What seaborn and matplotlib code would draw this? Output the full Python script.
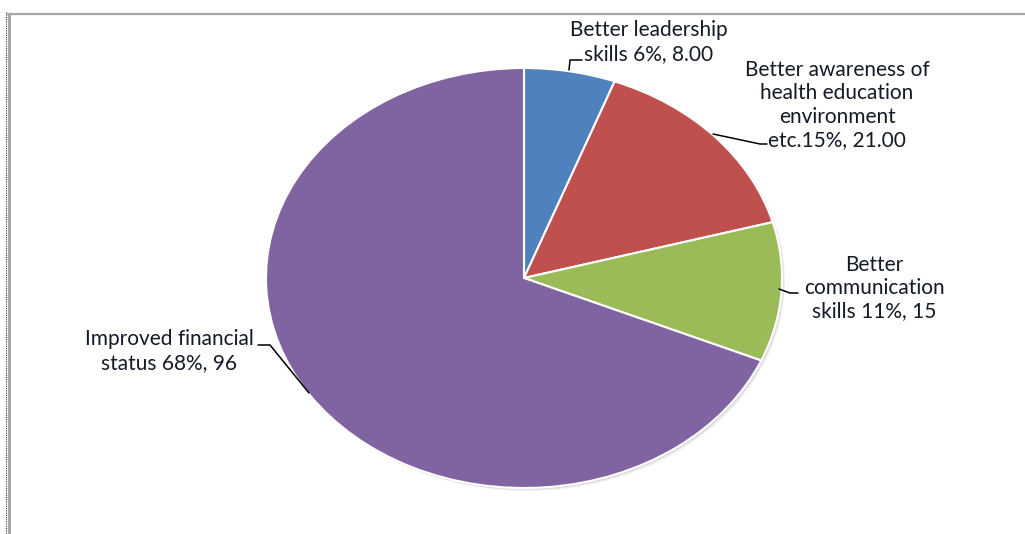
import matplotlib
matplotlib.use("Agg")
import matplotlib.pyplot as plt
from matplotlib.lines import Line2D
import seaborn as sns

# Survey outcome shares
categories = [
    "Better leadership\nskills",
    "Better awareness of\nhealth education\nenvironment\netc.",
    "Better\ncommunication\nskills",
    "Improved financial\nstatus",
]
counts = [8, 21, 15, 96]
percent_labels = ["6%", "15%", "11%", "68%"]
value_labels = ["8.00", "21.00", "15", "96"]
colors = ["#4F81BD", "#C0504D", "#9BBB59", "#8064A2"]

sns.set_theme(style="white")
plt.rcParams["font.family"] = ["Lato", "DejaVu Sans"]

W, H = 1025, 534
fig = plt.figure(figsize=(W / 100, H / 100), dpi=100)
fig.patch.set_facecolor("white")


def fx(px):
    return px / W


def fy(py):
    return 1 - py / H


# Elliptical pie: axes box spans the ellipse, aspect left free
left, right, top, bottom = 266, 782, 68, 488
ax = fig.add_axes([fx(left), fy(bottom), (right - left) / W, (bottom - top) / H])
ax.set_xlim(-1, 1)
ax.set_ylim(-1, 1)
ax.axis("off")

# soft drop shadow under the pie
for k, a in [(3, 0.10), (2, 0.14), (1, 0.18)]:
    ax.pie([1], radius=1.0, colors=["#7f7f7f"],
           center=(k * 2 / (right - left), -k * 2 / (bottom - top)),
           wedgeprops=dict(alpha=a, linewidth=0), frame=False)

wedges, _ = ax.pie(
    counts, colors=colors, startangle=90, counterclock=False, radius=1.0,
    wedgeprops=dict(edgecolor="white", linewidth=1.5), frame=False,
)
ax.set_xlim(-1, 1)
ax.set_ylim(-1, 1)
ax.set_aspect("auto")

# Data labels
label_pos = [(649, 42), (837, 105), (874, 288), (169, 351)]
for cat, pct, val, (x, y) in zip(categories, percent_labels, value_labels, label_pos):
    if cat.endswith("etc."):
        text = f"{cat}{pct}, {val}"
    else:
        text = f"{cat} {pct}, {val}"
    fig.text(fx(x), fy(y), text, ha="center", va="center", fontsize=15,
             color="#141a26", linespacing=1.2)

# Leader lines
leaders = [
    [(582, 60), (570, 60), (569, 70)],
    [(713, 134), (760, 144), (767, 144)],
    [(779, 289), (790, 293), (798, 293)],
    [(258, 345), (270, 345), (309, 393)],
]
for pts in leaders:
    xs = [fx(p[0]) for p in pts]
    ys = [fy(p[1]) for p in pts]
    fig.add_artist(Line2D(xs, ys, color="black", linewidth=1.1))

# Chart area frame (top and left edges)
fig.add_artist(Line2D([fx(8), 1], [fy(14), fy(14)], color="#a6a6a6", linewidth=1.6))
fig.add_artist(Line2D([fx(9), fx(9)], [fy(14), 0], color="#a6a6a6", linewidth=2.2))
fig.add_artist(Line2D([fx(6), fx(6)], [fy(12), 0], color="#333333", linewidth=0.8,
                      linestyle=(0, (1, 1))))

fig.savefig("out.png", dpi=100, facecolor="white")
